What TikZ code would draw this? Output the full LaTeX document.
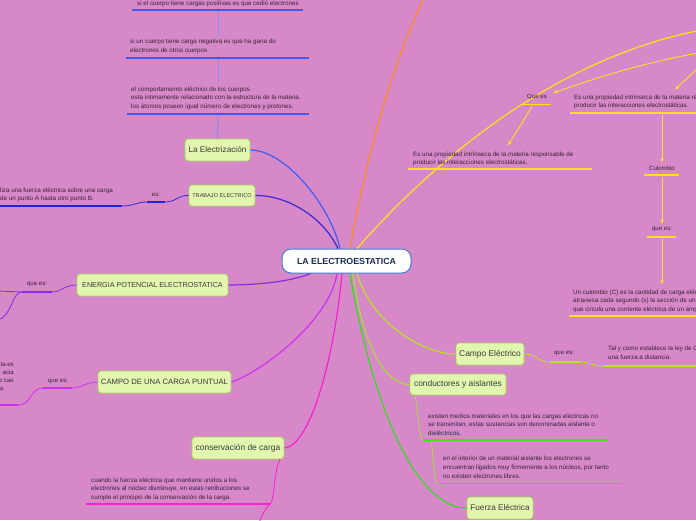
\documentclass[tikz,border=0pt]{standalone}
\usepackage{fontspec}
\setmainfont{Liberation Sans}
\usetikzlibrary{arrows.meta,calc}
\definecolor{bgc}{HTML}{D688C8}
\definecolor{topicfill}{HTML}{E3F6B0}
\definecolor{topicborder}{HTML}{A6D25C}
\definecolor{topictext}{HTML}{3A3A3A}
\definecolor{bodytext}{HTML}{3A243A}
\definecolor{centralborder}{HTML}{3D7DD8}
\definecolor{centraltext}{HTML}{1A2A5A}
\definecolor{cblue}{HTML}{3F5CF2}
\definecolor{cbluelight}{HTML}{8C8CF2}
\definecolor{cindigo}{HTML}{3A2AD8}
\definecolor{cindigou}{HTML}{2222E6}
\definecolor{cpurple}{HTML}{8A2BE6}
\definecolor{cviolet}{HTML}{CC33EE}
\definecolor{cmagenta}{HTML}{F522CC}
\definecolor{corange}{HTML}{FF8C1A}
\definecolor{cyellow}{HTML}{FFE11A}
\definecolor{cyg}{HTML}{B8E41E}
\definecolor{clime}{HTML}{A8DC3A}
\definecolor{cgreen}{HTML}{33DC22}
\definecolor{cgreenu}{HTML}{44E01A}
\begin{document}
\begin{tikzpicture}[x=1pt,y=-1pt,
  topic/.style={draw=topicborder, fill=topicfill, rounded corners=3pt, line width=0.9pt,
    text=topictext, inner sep=0pt, minimum height=22pt},
  central/.style={draw=centralborder, fill=white, rounded corners=9pt, line width=1pt,
    text=centraltext, inner sep=0pt, minimum width=129pt, minimum height=24pt,
    font=\bfseries\fontsize{8.8}{10}\selectfont},
  bodytxt/.style={font=\fontsize{6.25}{8.6}\selectfont, text=bodytext, align=left,
    inner sep=0pt, anchor=north west},
  lbl/.style={font=\fontsize{6.1}{8}\selectfont, text=bodytext, inner sep=0pt},
  frag/.style={font=\fontsize{6.1}{8}\selectfont, text=bodytext, inner sep=0pt, anchor=east},
  conn/.style={line width=1.2pt},
  thinc/.style={line width=0.8pt},
  uline/.style={line width=1.5pt},
  arr/.style={-{Latex[length=4pt,width=4pt]}, line width=0.9pt, draw=cyellow},
]
\clip (0,0) rectangle (696,520);
\fill[bgc] (0,0) rectangle (696,520);

% ---------- nodes ----------
\node[central] (c) at (346.5,261) {LA ELECTROESTATICA};
\node[topic, minimum width=65pt, font=\fontsize{8.2}{10}\selectfont] (elec) at (217.5,150) {La Electrización};
\node[topic, minimum width=66pt, minimum height=21pt, font=\fontsize{5.6}{7}\selectfont] (trab) at (222,195.5) {TRABAJO ELECTRICO};
\node[topic, minimum width=151pt, font=\fontsize{7.2}{9}\selectfont] (ener) at (152.5,285) {ENERGIA POTENCIAL ELECTROSTATICA};
\node[topic, minimum width=133pt, font=\fontsize{7.7}{9}\selectfont] (campop) at (164.5,382) {CAMPO DE UNA CARGA PUNTUAL};
\node[topic, minimum width=92pt, font=\fontsize{8.4}{10}\selectfont] (cons) at (238,448) {conservación de carga};
\node[topic, minimum width=68pt, font=\fontsize{8.4}{10}\selectfont] (campoe) at (490,354) {Campo Eléctrico};
\node[topic, minimum width=96pt, minimum height=21pt, font=\fontsize{8.4}{10}\selectfont] (cond) at (458,384.5) {conductores y aislantes};
\node[topic, minimum width=66pt, font=\fontsize{8.2}{10}\selectfont] (fuerza) at (500,508) {Fuerza Eléctrica};

% ---------- main connectors ----------
\draw[conn, cblue] ([xshift=-6.5pt]c.north) .. controls (330,205) and (285,150) .. (elec.east);
\draw[conn, cindigo] ([xshift=-8.5pt]c.north) .. controls (322,215) and (285,195) .. (trab.east);
\coordinate (orTop) at (425,-5);
\draw[conn, corange] ([xshift=3.5pt]c.north) .. controls (362,180) and (385,80) .. (orTop);
\coordinate (yTop) at (720,27);
\draw[conn, cyellow] ([xshift=10.5pt]c.north) .. controls (430,165) and (560,50) .. (yTop);
\draw[conn, cpurple] ([xshift=-36pt]c.south) .. controls (290,282) and (255,285) .. (ener.east);
\draw[conn, cviolet] ([xshift=-9.5pt]c.south) .. controls (330,320) and (262,372) .. (campop.east);
\draw[conn, cmagenta] ([xshift=-4.5pt]c.south) .. controls (334,360) and (310,446) .. (cons.east);
\draw[conn, cgreen] ([xshift=3.5pt]c.south) .. controls (375,420) and (420,508) .. (fuerza.west);
\draw[conn, clime] ([xshift=6.5pt]c.south) .. controls (362,345) and (385,384.5) .. (cond.west);
\draw[conn, cyg] ([xshift=10.5pt]c.south) .. controls (372,325) and (425,354) .. (campoe.west);

% ---------- La Electrizacion column ----------
\node[bodytxt] (t1) at (137,0.3) {si el cuerpo tiene cargas positivas es que cedió electrones};
\coordinate (u1l) at (132,10); \coordinate (u1r) at (303,10);
\draw[uline, cblue] (u1l) -- (u1r);
\node[bodytxt] (t2) at (130,39.2) {si un cuerpo tiene carga negativa es que ha gana do\\electrones de otros cuerpos};
\coordinate (u2l) at (126,58); \coordinate (u2r) at (309,58);
\draw[uline, cblue] (u2l) -- (u2r);
\node[bodytxt] (t3) at (131,86.2) {el comportamiento eléctrico de los cuerpos\\esta íntimamente relacionado con la estructura de la materia.\\los átomos poseen igual número de electrones y protones.};
\coordinate (u3l) at (127,114); \coordinate (u3r) at (309,114);
\draw[uline, cblue] (u3l) -- (u3r);
\coordinate (v1a) at (218,11.5); \coordinate (v1b) at (218,35);
\coordinate (v2a) at (218,59.5); \coordinate (v2b) at (218,82);
\coordinate (v3a) at (218,115.5);
\draw[thinc, cbluelight, line width=1pt] (v1a) -- (v1b);
\draw[thinc, cbluelight, line width=1pt] (v2a) -- (v2b);
\draw[thinc, cbluelight, line width=1pt] (v3a) -- (elec.north);

% ---------- TRABAJO ELECTRICO ----------
\node[lbl] (es1) at (156,194.5) {es:};
\coordinate (es1l) at (147,202); \coordinate (es1r) at (165,202);
\draw[uline, cindigou] (es1l) -- (es1r);
\draw[thinc, cindigo] (trab.west) .. controls (178,195) and (176,202) .. (es1r);
\coordinate (tr1r) at (122,206); \coordinate (tr1l) at (-2,206);
\draw[thinc, cindigo] (es1l) .. controls (136,202) and (134,206) .. (tr1r);
\draw[uline, cindigou] (tr1l) -- (tr1r);
\node[bodytxt] (t4) at (0,187.2) {liza una fuerza eléctrica sobre una carga\\de un punto A hasta otro punto B.};

% ---------- ENERGIA POTENCIAL ----------
\node[lbl] (qe1) at (37,284) {que es:};
\coordinate (qe1l) at (22,292); \coordinate (qe1r) at (52,292);
\draw[uline, cpurple] (qe1l) -- (qe1r);
\draw[thinc, cpurple] (ener.west) .. controls (64,285) and (62,292) .. (qe1r);
\coordinate (en1) at (-2,291); \coordinate (en2) at (-2,320);
\draw[thinc, cpurple] (qe1l) -- (en1);
\draw[thinc, cpurple] (qe1l) .. controls (12,292) and (12,316) .. (en2);

% ---------- CAMPO DE UNA CARGA PUNTUAL ----------
\node[lbl] (qe2) at (58,381) {que es:};
\coordinate (qe2l) at (43,388); \coordinate (qe2r) at (72,388);
\draw[uline, cviolet] (qe2l) -- (qe2r);
\draw[thinc, cviolet] (campop.west) .. controls (86,382) and (82,388) .. (qe2r);
\coordinate (cp1r) at (18,405); \coordinate (cp1l) at (-2,405);
\draw[thinc, cviolet] (qe2l) .. controls (30,388) and (32,405) .. (cp1r);
\draw[uline, cviolet] (cp1l) -- (cp1r);
\node[frag] (f1) at (14,364.5) {ta es};
\node[frag] (f2) at (14,372.5) {acia};
\node[frag] (f3) at (14,380.5) {e cae};
\node[frag] (f4) at (3.5,388.5) {a};

% ---------- conservacion de carga ----------
\coordinate (cs0) at (280,459);
\coordinate (csr) at (270,504); \coordinate (csl) at (86,504);
\coordinate (csd) at (259,523);
\draw[thinc, cmagenta] (cs0) .. controls (273,475) and (275,500) .. (csr);
\draw[uline, cmagenta] (csl) -- (csr);
\draw[thinc, cmagenta] (csr) .. controls (264,510) and (262,515) .. (csd);
\node[bodytxt] (t5) at (91,477.2) {cuando la fuerza eléctrica que mantiene unidos a los\\electrones al núcleo disminuye, en estas retribuciones se\\cumple el principio de la conservación de la carga.};

% ---------- yellow branch (right) ----------
\node[lbl] (quees) at (537,97) {Que es};
\coordinate (qyl) at (522,104.5); \coordinate (qyr) at (551,104.5);
\draw[uline, cyellow] (qyl) -- (qyr);
\coordinate (ya) at (716,50);
\coordinate (yaTip) at (553,93);
\draw[arr] (ya) .. controls (640,62) and (585,82) .. (yaTip);
\node[bodytxt] (t6) at (574,94.2) {Es una propiedad intrínseca de la materia responsable de\\producir las interacciones electrostáticas.};
\coordinate (r1l) at (570,113); \coordinate (r1r) at (700,113);
\draw[uline, cyellow] (r1l) -- (r1r);
\coordinate (rb) at (712,55); \coordinate (rbTip) at (675,89.5);
\draw[arr] (rb) -- (rbTip);
\coordinate (qy0) at (532,106.5); \coordinate (qyTip) at (508,145.5);
\draw[arr] (qy0) -- (qyTip);
\node[bodytxt] (t7) at (413,151.2) {Es una propiedad intrínseca de la materia responsable de\\producir las interacciones electrostáticas.};
\coordinate (l1l) at (408,169); \coordinate (l1r) at (592,169);
\draw[uline, cyellow] (l1l) -- (l1r);
\coordinate (vy1) at (662,114.5);
\node[lbl] (culo) at (662,168) {Culombio};
\coordinate (cul) at (644,175); \coordinate (cur) at (679,175);
\draw[uline, cyellow] (cul) -- (cur);
\draw[arr] (vy1) -- ([yshift=3pt]culo.north);
\coordinate (vy2) at (662,176.5);
\node[lbl] (qe4) at (662,229.5) {que es:};
\coordinate (q4l) at (647,237); \coordinate (q4r) at (676,237);
\draw[uline, cyellow] (q4l) -- (q4r);
\draw[arr] (vy2) -- ([yshift=3pt]qe4.north);
\coordinate (vy3) at (662,238.5); \coordinate (vy3Tip) at (662,284.5);
\draw[arr] (vy3) -- (vy3Tip);
\node[bodytxt] (t8) at (573,289.2) {Un culombio (C) es la cantidad de carga eléctrica que\\atraviesa cada segundo (s) la sección de un conductor\\que circula una corriente eléctrica de un amperio};
\coordinate (r2l) at (569,316); \coordinate (r2r) at (700,316);
\draw[uline, cyellow] (r2l) -- (r2r);

% ---------- Campo Electrico ----------
\node[lbl] (qe3) at (564,353) {que es:};
\coordinate (q3l) at (550,362); \coordinate (q3r) at (580,362);
\draw[uline, cyg] (q3l) -- (q3r);
\draw[thinc, cyg] (campoe.east) .. controls (537,354) and (537,362) .. (q3l);
\coordinate (ce1l) at (603,366); \coordinate (ce1r) at (700,366);
\draw[thinc, cyg] (q3r) .. controls (590,362) and (593,366) .. (ce1l);
\draw[uline, cyg] (ce1l) -- (ce1r);
\node[bodytxt] (t9) at (608,346.2) {Tal y como establece la ley de Coulomb\\una fuerza a distancia.};

% ---------- conductores y aislantes ----------
\coordinate (cd0) at (415,395.5);
\coordinate (cd1l) at (423,440); \coordinate (cd1r) at (608,440);
\draw[thinc, clime] (cd0) .. controls (418,410) and (419,438) .. (cd1l);
\draw[uline, cgreenu] (cd1l) -- (cd1r);
\node[bodytxt] (t10) at (428,413.2) {existen medios materiales en los que las cargas eléctricas no\\se transmiten, estas sustancias son denominadas aislante o\\dieléctricos.};
\coordinate (cd2) at (431,441.5);
\coordinate (cd3l) at (438,483.5); \coordinate (cd3r) at (623,483.5);
\draw[thinc, clime] (cd2) .. controls (434,455) and (433,481) .. (cd3l);
\draw[uline, cgreenu] (cd3l) -- (cd3r);
\node[bodytxt] (t11) at (443,456.2) {en el interior de un material aislante los electrones se\\encuentran ligados muy firmemente a los núcleos, por tanto\\no existen electrones libres.};
\end{tikzpicture}
\end{document}
